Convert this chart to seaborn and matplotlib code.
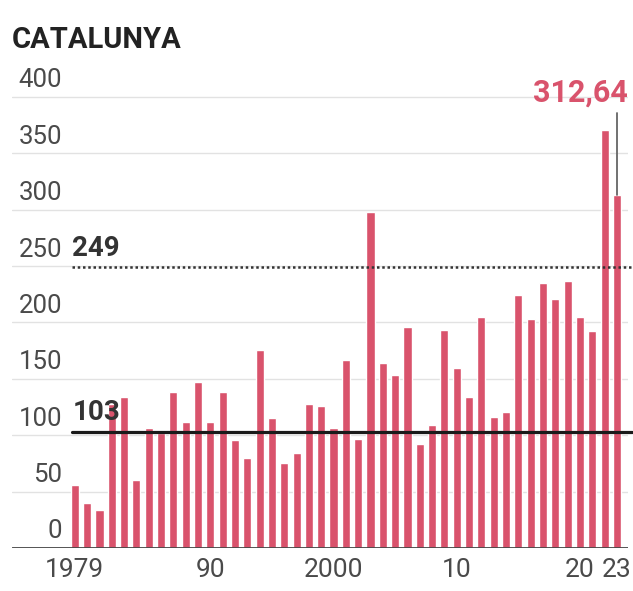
import matplotlib
matplotlib.use("Agg")
import matplotlib.pyplot as plt
import numpy as np
import pandas as pd
import seaborn as sns

""" data read off the chart """

years = list(range(1979, 2024))
values = [56, 40, 34, 128, 134, 60, 106, 102, 138, 112,
          147, 112, 138, 96, 80, 176, 115, 75, 84, 128,
          126, 106, 167, 97, 298, 164, 153, 196, 92, 109,
          193, 160, 134, 205, 116, 121, 224, 203, 235, 221,
          237, 205, 192, 371, 312.64]
tick_years = [1979, 1990, 2000, 2010, 2020, 2023]
tick_labels = ["1979", "90", "2000", "10", "20", "23"]
y_ticks = [0, 50, 100, 150, 200, 250, 300, 350, 400]
ref_high = 249
ref_low = 103
title = "CATALUNYA"
last_label = "312,64"

bar_color = "#d9536c"
text_color = "#4a4a4a"

sns.set_style("white")
plt.rcParams['font.family'] = ['Roboto', 'DejaVu Sans']

df = pd.DataFrame({"year": years, "value": values})

fig = plt.figure(figsize=(6.33, 5.91), dpi=100)
ax = fig.add_axes([12 / 633, 43 / 591, 616 / 633, 468 / 591])

sns.barplot(data=df, x="year", y="value", native_scale=True,
            color=bar_color, saturation=1, width=0.66, ax=ax, zorder=2)

ax.set_xlim(1973.9, 2023.9)
ax.set_ylim(0, 415)

# grid lines + labels sitting on top of them
for v in y_ticks[1:]:
    ax.axhline(v, color="#e2e2e2", lw=1, zorder=0)
for v in y_ticks:
    ax.text(0.081, v + 4, str(v), transform=ax.get_yaxis_transform(),
            ha="right", va="bottom", fontsize=18.5, color=text_color)

# reference lines
ax.plot([1979 - 0.25, 2024.2], [ref_high, ref_high], color="#333333",
        lw=1.8, ls=(0, (1, 1.1)), zorder=3, clip_on=False)
ax.text(1978.8, ref_high + 5, str(ref_high), ha="left", va="bottom",
        fontsize=20, fontweight="bold", color="#333333", zorder=4)
ax.plot([1979 - 0.25, 2024.2], [ref_low, ref_low], color="#1a1a1a",
        lw=2.3, zorder=3, clip_on=False)
ax.text(1978.8, ref_low + 5, str(ref_low), ha="left", va="bottom",
        fontsize=20, fontweight="bold", color="#333333", zorder=4)

# last value callout
ax.plot([2023, 2023], [values[-1], 386], color="#666666", lw=1.3, zorder=3)
ax.text(2023.85, 391, last_label, ha="right", va="bottom", fontsize=22,
        fontweight="bold", color=bar_color, clip_on=False)

# baseline and ticks
ax.axhline(0, color="#444444", lw=2, zorder=4)
ax.set_xticks(tick_years)
ax.set_xticklabels(tick_labels, fontsize=19, color=text_color)
ax.tick_params(axis="x", length=5, width=1.2, color="#555555", pad=2)
ax.set_yticks([])
ax.set_xlabel("")
ax.set_ylabel("")
sns.despine(ax=ax, left=True, bottom=True)

fig.text(12 / 633, 1 - 48 / 591, title, ha="left", va="baseline",
         fontsize=21, fontweight="bold", color="#222222")

fig.savefig("out.png", dpi=100)
